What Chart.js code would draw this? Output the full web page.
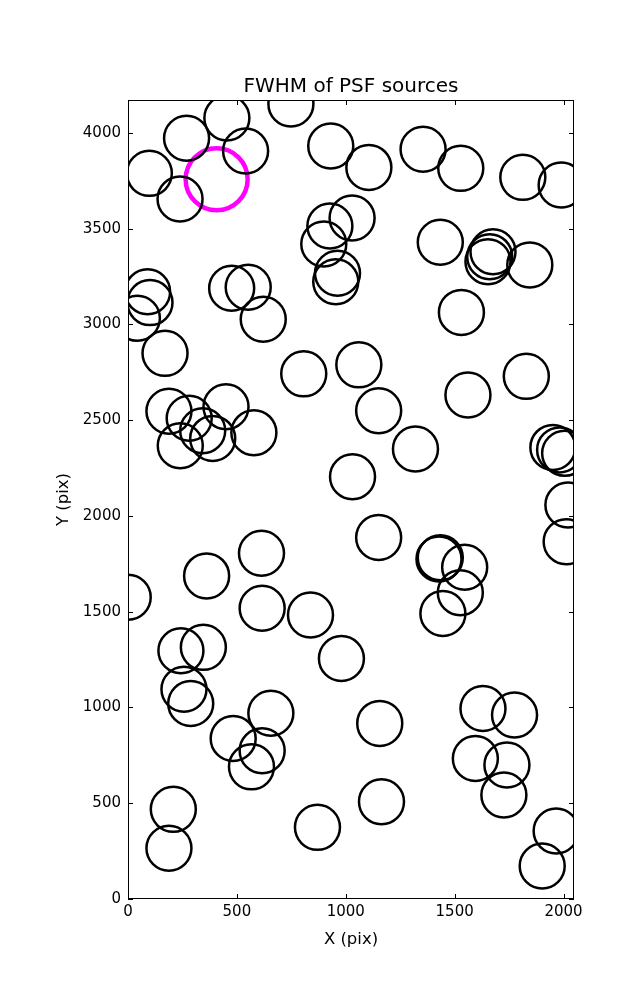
<!DOCTYPE html>
<html>
<head>
<meta charset="utf-8">
<script src="https://cdn.jsdelivr.net/npm/chart.js@4/dist/chart.umd.min.js"></script>
<style>
  body { margin: 0; background: #fff; }
  canvas { display: block; }
</style>
</head>
<body>
<canvas id="chart" width="637" height="1000"></canvas>
<script>
// source centres (pixel coords on the detector)
var srcX = [748, 454, 269, 540, 98, 239, 931, 1106, 1355, 1528, 1813, 1989,
  1029, 927, 899, 962, 954, 1434, 1676, 1661, 1653, 1845, 1531,
  90, 101, 43, 476, 552, 621, 170, 807, 1060, 1829,
  188, 281, 450, 343, 389, 240, 578, 1151, 1561, 1320, 1951, 1982, 2005,
  2020, 2012, 1031, 613, 361, 1, 616, 838, 1151, 1428, 1434,
  1546, 1526, 1446, 243, 346, 980, 257, 288, 483, 656, 616, 567,
  208, 188, 870, 1156, 1164, 1630, 1775, 1595, 1740, 1726, 1966, 1902];
var srcY = [4151, 4078, 3972, 3906, 3789, 3655, 3932, 3820, 3915, 3815, 3768, 3728,
  3556, 3514, 3420, 3267, 3223, 3429, 3380, 3354, 3328, 3311, 3063,
  3171, 3114, 3032, 3189, 3194, 3027, 2849, 2742, 2789, 2729,
  2547, 2510, 2570, 2445, 2405, 2367, 2435, 2549, 2632, 2350, 2358, 2345, 2327,
  2057, 1865, 2205, 1805, 1687, 1576, 1518, 1483, 1888, 1775, 1782,
  1732, 1599, 1491, 1296, 1314, 1256, 1095, 1021, 838, 970, 774, 690,
  468, 265, 374, 917, 508, 995, 961, 734, 700, 543, 355, 172];

// the highlighted source
var refX = [407];
var refY = [3758];

var xTicks = [0, 500, 1000, 1500, 2000];
var yTicks = [0, 500, 1000, 1500, 2000, 2500, 3000, 3500, 4000];
var xMax = 2048;
var yMax = 4172;

function toPoints(xs, ys) {
    var pts = [];
    for (let i = 0; i < xs.length; i++) {
        pts.push({ x: xs[i], y: ys[i] });
    }
    return pts;
}

// box round the plot and inward ticks on all four sides
var frameTicks = {
    id: 'frameTicks',
    afterDatasetsDraw(chart) {
        var ctx = chart.ctx;
        var a = chart.chartArea;
        var sx = chart.scales.x, sy = chart.scales.y;
        ctx.save();
        ctx.strokeStyle = '#000';
        ctx.lineWidth = 1;
        ctx.beginPath();
        xTicks.forEach(v => {
            var px = Math.round(sx.getPixelForValue(v)) + 0.5;
            ctx.moveTo(px, a.bottom); ctx.lineTo(px, a.bottom - 5);
            ctx.moveTo(px, a.top); ctx.lineTo(px, a.top + 5);
        });
        yTicks.forEach(v => {
            var py = Math.round(sy.getPixelForValue(v)) + 0.5;
            ctx.moveTo(a.left, py); ctx.lineTo(a.left + 5, py);
            ctx.moveTo(a.right, py); ctx.lineTo(a.right - 5, py);
        });
        ctx.stroke();
        ctx.strokeRect(a.left + 0.5, a.top + 0.5, a.right - a.left - 1, a.bottom - a.top - 1);
        ctx.restore();
    }
};

Chart.defaults.font.family = "'DejaVu Sans', sans-serif";
Chart.defaults.color = '#000';

var Ctx = document.getElementById('chart');
var Chart1 = new Chart(Ctx, {
    type: 'scatter',
    data: {
        datasets: [{
            label: 'sources',
            data: toPoints(srcX, srcY),
            pointRadius: 22.5,
            pointBorderWidth: 2.5,
            borderColor: '#000',
            backgroundColor: 'rgba(0,0,0,0)',
            clip: 0
        }, {
            label: 'selected',
            data: toPoints(refX, refY),
            pointRadius: 31,
            pointBorderWidth: 4.5,
            borderColor: '#ff00ff',
            backgroundColor: 'rgba(0,0,0,0)',
            clip: 0
        }]
    },
    options: {
        responsive: false,
        animation: false,
        events: [],
        layout: { padding: { left: 0, right: 63, top: 0, bottom: 0 } },
        plugins: {
            legend: { display: false },
            tooltip: { enabled: false },
            title: {
                display: true,
                fullSize: false,
                text: 'FWHM of PSF sources',
                font: { size: 20, weight: 'normal', lineHeight: 1.1 },
                padding: { top: 76, bottom: 2 }
            }
        },
        scales: {
            x: {
                type: 'linear',
                min: 0,
                max: xMax,
                afterFit: (s) => { s.height = 101; },
                afterBuildTicks: (s) => { s.ticks = xTicks.map(v => ({ value: v })); },
                grid: { display: false, drawTicks: false },
                border: { display: false },
                ticks: {
                    font: { size: 15 },
                    padding: 4,
                    maxRotation: 0,
                    callback: (v) => String(v)
                },
                title: {
                    display: true,
                    text: 'X (pix)',
                    font: { size: 16.5 },
                    padding: { top: 0, bottom: 50 }
                }
            },
            y: {
                type: 'linear',
                min: 0,
                max: yMax,
                afterFit: (s) => { s.width = 128; },
                afterBuildTicks: (s) => { s.ticks = yTicks.map(v => ({ value: v })); },
                grid: { display: false, drawTicks: false },
                border: { display: false },
                ticks: {
                    font: { size: 15 },
                    padding: 7,
                    callback: (v) => String(v)
                },
                title: {
                    display: true,
                    text: 'Y (pix)',
                    font: { size: 16.5 },
                    padding: { top: 54, bottom: 0 }
                }
            }
        }
    },
    plugins: [frameTicks]
});
</script>
</body>
</html>
